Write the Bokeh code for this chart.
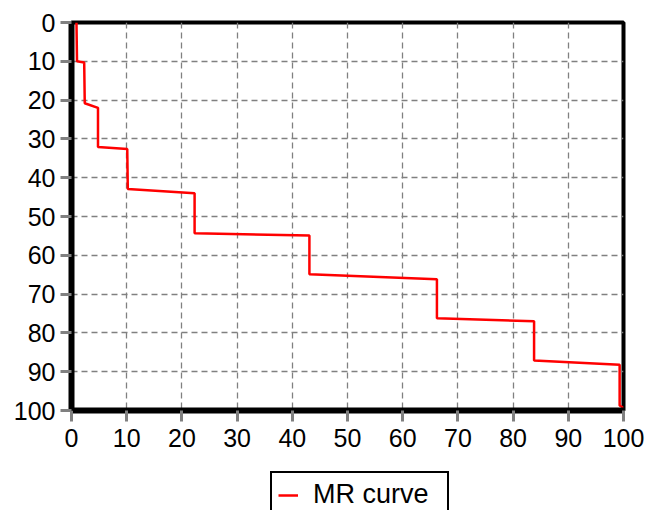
from bokeh.plotting import figure
from bokeh.layouts import column
from bokeh.models import Range1d, Legend, LegendItem
from bokeh.embed import file_html
from bokeh.resources import INLINE

# Data (x: %, y: %)
mr_x = [0.9, 1.0, 2.3, 2.4, 4.8, 4.8, 10.1, 10.2, 22.3, 22.3, 43.1, 43.1,
        66.2, 66.2, 83.8, 83.8, 99.3, 99.3, 100.0]
mr_y = [0.0, 10.0, 10.3, 20.8, 22.0, 32.1, 32.6, 42.9, 44.0, 54.3, 54.9, 64.9,
        66.2, 76.2, 77.0, 87.1, 88.2, 98.7, 99.3]
tick_values = [0, 10, 20, 30, 40, 50, 60, 70, 80, 90, 100]
series_name = "MR curve"

FONT = "Liberation Sans"
RED = "#ff0000"

p = figure(width=646, height=462, output_backend="svg", toolbar_location=None,
           x_range=Range1d(0, 100), y_range=Range1d(100, 0),
           min_border_left=71, min_border_right=23, min_border_top=22,
           min_border_bottom=52)

p.background_fill_color = "white"
p.border_fill_color = "white"
p.outline_line_color = "black"
p.outline_line_width = 4

for ax in (p.xaxis[0], p.yaxis[0]):
    ax.ticker = tick_values
    ax.ticker.num_minor_ticks = 5
    ax.axis_line_color = "black"
    ax.axis_line_width = 6
    ax.major_tick_line_color = "#808080"
    ax.major_tick_line_width = 3
    ax.major_tick_out = 11
    ax.major_tick_in = 0
    ax.minor_tick_line_color = "#808080"
    ax.minor_tick_line_width = 3
    ax.minor_tick_out = 6
    ax.minor_tick_in = 0
    ax.major_label_text_font = FONT
    ax.major_label_text_font_size = "25px"
    ax.major_label_text_color = "black"
    ax.major_label_standoff = 5

p.xaxis[0].major_label_standoff = 7

for g in (p.xgrid[0], p.ygrid[0]):
    g.grid_line_color = "#808080"
    g.grid_line_width = 1.3
    g.grid_line_dash = "6 4"

p.line(mr_x, mr_y, line_color=RED, line_width=2.5)

# Legend strip below the chart (no axes; frame aligned with the chart frame)
p2 = figure(width=646, height=48, output_backend="svg", toolbar_location=None,
            x_range=Range1d(0, 1), y_range=Range1d(0, 1),
            x_axis_location=None, y_axis_location=None,
            min_border_left=71, min_border_right=23, min_border_top=0,
            min_border_bottom=0)
p2.grid.visible = False
p2.outline_line_color = None
p2.background_fill_color = "white"
p2.border_fill_color = "white"
r2 = p2.line([5, 6], [5, 6], line_color=RED, line_width=2.5)

legend = Legend(items=[LegendItem(label=series_name, renderers=[r2])],
                location=(199, -8))
legend.border_line_color = "black"
legend.border_line_alpha = 1.0
legend.border_line_width = 2.5
legend.background_fill_color = "white"
legend.background_fill_alpha = 1.0
legend.label_text_font = FONT
legend.label_text_font_size = "27px"
legend.label_text_color = "black"
legend.padding = 6
legend.glyph_width = 20
legend.glyph_height = 20
legend.label_height = 30
legend.label_width = 128
legend.label_standoff = 15
legend.margin = 0
p2.add_layout(legend, "center")

layout = column(p, p2, spacing=0)
open("out.html", "w").write(file_html(layout, INLINE))
